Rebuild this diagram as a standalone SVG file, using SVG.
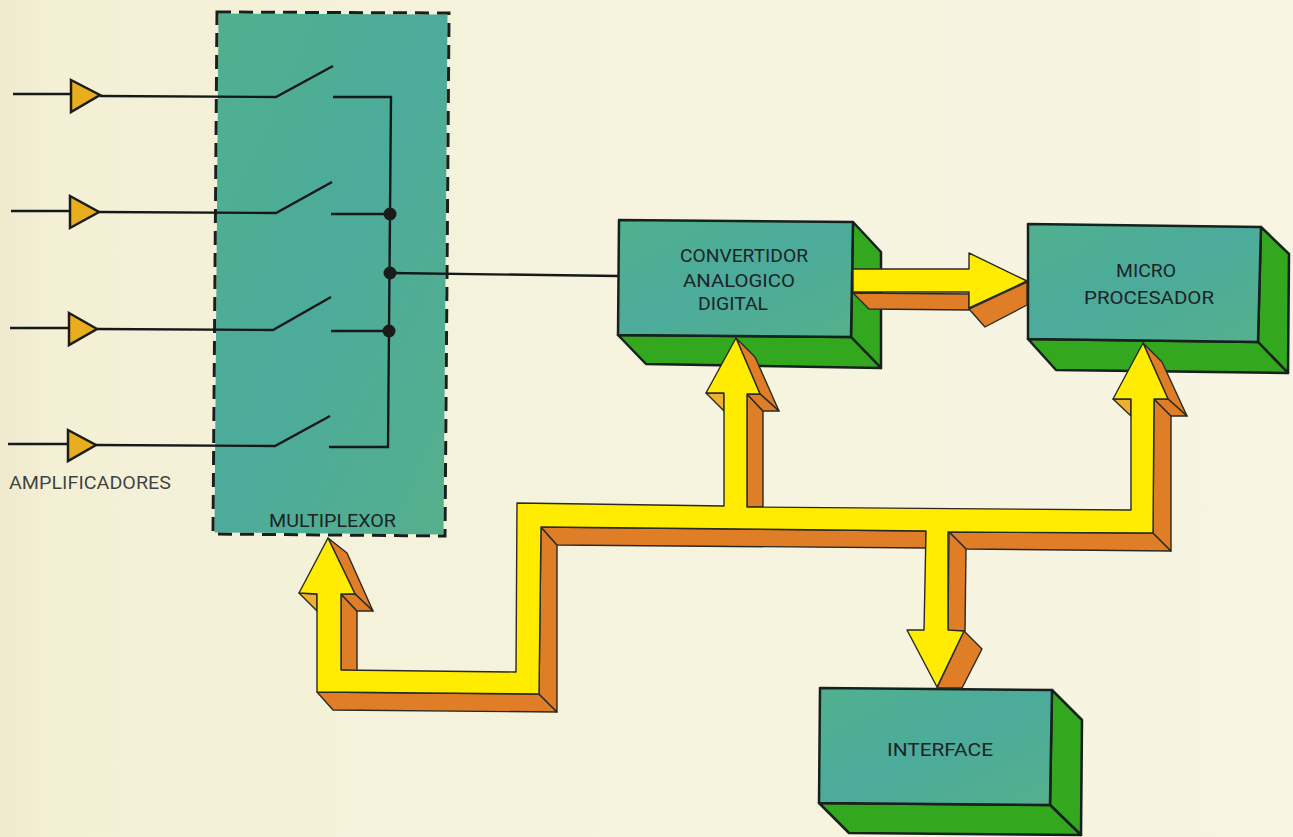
<svg xmlns="http://www.w3.org/2000/svg" width="1293" height="837" viewBox="0 0 1293 837">
<style>
.face{fill:url(#teal);stroke:#16201c;stroke-width:2.5;stroke-linejoin:round}
.side{fill:#33a81f;stroke:#16201c;stroke-width:2.5;stroke-linejoin:round}
.y{fill:#ffec00;stroke:#2a2a24;stroke-width:1.4;stroke-linejoin:round}
.o{fill:#e07e28;stroke:#2a2a24;stroke-width:1.4;stroke-linejoin:round}
.l{fill:#eeb030;stroke:#2a2a24;stroke-width:1.4;stroke-linejoin:round}
.w{fill:none;stroke:#16181a;stroke-width:2.4;stroke-linejoin:miter}
.amp{fill:#e8ae1e;stroke:#1c1c1c;stroke-width:2.5;stroke-linejoin:miter}
.dot{fill:#1a1c1c}
.t{font-family:Roboto,"Liberation Sans",Arial,sans-serif;font-size:18.5px;fill:#1c2426}
</style>
<defs>
<linearGradient id="teal" x1="0" y1="0" x2="1" y2="1">
<stop offset="0" stop-color="#50b08e"/><stop offset="0.5" stop-color="#4cab9b"/><stop offset="1" stop-color="#55b08c"/>
</linearGradient>
<linearGradient id="bg" x1="0" y1="0" x2="1" y2="0">
<stop offset="0" stop-color="#efeace"/><stop offset="0.04" stop-color="#f4f0d6"/><stop offset="0.5" stop-color="#f6f3de"/><stop offset="1" stop-color="#f7f4e2"/>
</linearGradient>
</defs>
<rect width="1293" height="837" fill="url(#bg)"/>

<g id="multiplexor">
<polygon points="218.5,13.5 447.5,14.5 443.5,534.5 214.5,532.5" fill="url(#teal)"/>
<polygon points="217,12 449,13 445,536 213,534" fill="none" stroke="#16201c" stroke-width="3" stroke-dasharray="14 8"/>
<text class="t" x="269" y="527" textLength="127" lengthAdjust="spacingAndGlyphs">MULTIPLEXOR</text>
</g>

<g id="convertidor">
<polygon class="side" points="853,222 881,252 881,368 851,337"/>
<polygon class="side" points="618,335 851,337 881,368 646,364"/>
<polygon class="face" points="619,220 853,222 851,337 618,335"/>
<text class="t" x="680" y="262" textLength="128" lengthAdjust="spacingAndGlyphs">CONVERTIDOR</text>
<text class="t" x="683" y="287" textLength="112" lengthAdjust="spacingAndGlyphs">ANALOGICO</text>
<text class="t" x="698" y="310" textLength="70" lengthAdjust="spacingAndGlyphs">DIGITAL</text>
</g>

<g id="microprocesador">
<polygon class="side" points="1261,227 1289,254 1288,373 1258,342"/>
<polygon class="side" points="1028,339 1258,342 1288,373 1056,370"/>
<polygon class="face" points="1028,224 1261,227 1258,342 1028,339"/>
<text class="t" x="1116" y="277" textLength="60" lengthAdjust="spacingAndGlyphs">MICRO</text>
<text class="t" x="1084" y="304" textLength="130" lengthAdjust="spacingAndGlyphs">PROCESADOR</text>
</g>

<g id="interface">
<polygon class="side" points="1052,690 1082,720 1081,835 1050,805"/>
<polygon class="side" points="819,803 1050,805 1081,835 849,833"/>
<polygon class="face" points="820,688 1052,690 1050,805 819,803"/>
<text class="t" x="887" y="756" textLength="106" lengthAdjust="spacingAndGlyphs">INTERFACE</text>
</g>

<g id="connectors">
<g id="wires">
<path class="w" d="M13,94H71M100,96L276,97L333,66M333,97H391L388,447H329"/>
<path class="w" d="M11,211H70M99,212L276,213L332,182M331,214H390"/>
<path class="w" d="M10,328H69M97,329L273,330L331,297M331,331H389"/>
<path class="w" d="M8,444H68M96,445L275,446L330,416"/>
<path class="w" d="M390,273L618,276"/>
<circle class="dot" cx="390" cy="214" r="6.5"/>
<circle class="dot" cx="390" cy="273" r="6.5"/>
<circle class="dot" cx="389" cy="331" r="6.5"/>
</g>
<g id="bus">
<polygon class="o" points="317,692 333,710 557,712 539,694"/>
<polygon class="o" points="541,527 557,545 557,712 539,694"/>
<polygon class="o" points="541,527 926,531 926,548 557,545"/>
<polygon class="o" points="949,532 1153,533 1171,551 966,549"/>
<polygon class="o" points="949,532 966,549 965,631 948,631"/>
<polygon class="o" points="964,631 982,649 962,688 937,688"/>
<polygon class="o" points="341,594 357,611 357,671 341,670"/>
<polygon class="o" points="328,538 347,553 373,611 355,594"/>
<polygon class="o" points="341,594 355,594 373,611 357,611"/>
<polygon class="l" points="299,593 317,594 317,611"/>
<polygon class="o" points="747,394 763,411 763,507 747,507"/>
<polygon class="o" points="736,338 755,357 779,411 760,394"/>
<polygon class="o" points="747,394 760,394 779,411 763,411"/>
<polygon class="l" points="706,393 724,393 724,411"/>
<polygon class="o" points="1154,399 1171,416 1171,551 1153,533"/>
<polygon class="o" points="1143,343 1162,362 1187,416 1168,399"/>
<polygon class="o" points="1154,399 1168,399 1187,416 1171,416"/>
<polygon class="l" points="1113,399 1131,399 1131,416"/>
<polygon class="y" points="328,538 355,594 341,594 341,670 516,672 517,503 724,506 724,393 706,393 736,338 760,394 747,394 747,507 1131,510 1131,399 1113,399 1143,343 1168,399 1154,399 1153,533 948,532 948,630 964,631 937,687 907,630 924,630 926,531 541,527 539,694 317,692 317,594 299,593"/>
</g>
<g id="data-arrow">
<polygon class="o" points="853,293 969,294 969,310 869,309"/>
<polygon class="o" points="969,309 1027,282 1027,305 985,327"/>
<polygon class="y" points="853,269 969,269 969,253 1027,281 969,308 969,292 853,292"/>
</g>
</g>

<g id="amp1"><polygon class="amp" points="71,80 100,95 71,112"/></g>
<g id="amp2"><polygon class="amp" points="70,196 99,212 70,228"/></g>
<g id="amp3"><polygon class="amp" points="69,313 97,329 69,345"/></g>
<g id="amp4"><polygon class="amp" points="68,430 96,445 68,461"/></g>
<g id="amplificadores-label"><text class="t" x="9" y="489" textLength="162" lengthAdjust="spacingAndGlyphs" fill-opacity="0.85">AMPLIFICADORES</text></g>
</svg>
